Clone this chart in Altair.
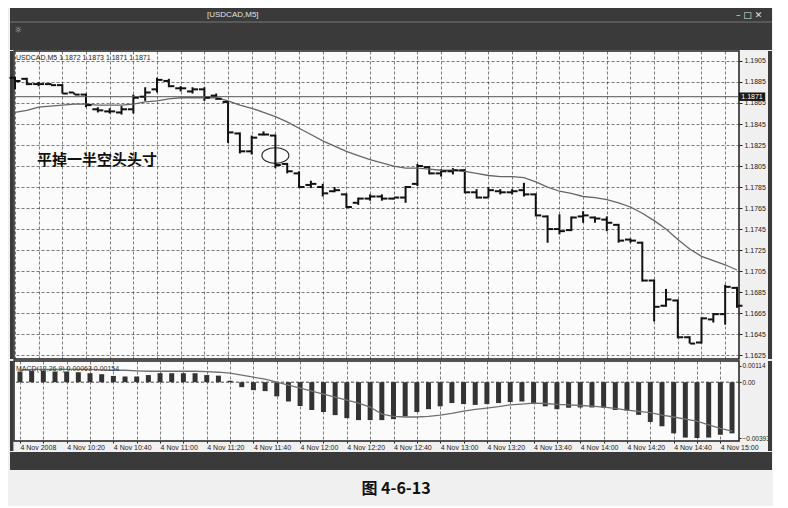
import altair as alt
import pandas as pd

# ---------------- data ----------------
bar_start = "2008-11-04 10:00"
n_bars = 62
bar_times = pd.date_range(bar_start, periods=n_bars, freq="5min")

open_ = [1.1889, 1.1888, 1.1883, 1.1883, 1.1882, 1.1875, 1.1873, 1.1859, 1.1857, 1.1856,
         1.1859, 1.1871, 1.1878, 1.1886, 1.1879, 1.1876, 1.1878, 1.1872, 1.1866, 1.1836,
         1.1819, 1.1835, 1.1834, 1.1807, 1.1798, 1.1787, 1.1785, 1.1781, 1.1778, 1.1770,
         1.1774, 1.1776, 1.1774, 1.1775, 1.1788, 1.1804, 1.1798, 1.1800, 1.1801, 1.1780,
         1.1775, 1.1781, 1.1780, 1.1782, 1.1778, 1.1757, 1.1745, 1.1744, 1.1757, 1.1756,
         1.1754, 1.1749, 1.1735, 1.1732, 1.1696, 1.1672, 1.1677, 1.1642, 1.1637, 1.1659,
         1.1664, 1.1689]
high = [1.1890, 1.1889, 1.1885, 1.1884, 1.1883, 1.1875, 1.1874, 1.1861, 1.1860, 1.1862,
        1.1873, 1.1880, 1.1889, 1.1888, 1.1881, 1.1880, 1.1880, 1.1874, 1.1867, 1.1837,
        1.1834, 1.1838, 1.1835, 1.1808, 1.1800, 1.1791, 1.1788, 1.1785, 1.1779, 1.1775,
        1.1778, 1.1778, 1.1775, 1.1786, 1.1807, 1.1805, 1.1802, 1.1803, 1.1802, 1.1783,
        1.1785, 1.1783, 1.1783, 1.1789, 1.1779, 1.1758, 1.1759, 1.1757, 1.1762, 1.1757,
        1.1757, 1.1750, 1.1736, 1.1733, 1.1697, 1.1688, 1.1678, 1.1643, 1.1661, 1.1665,
        1.1692, 1.1690]
low = [1.1878, 1.1882, 1.1881, 1.1882, 1.1874, 1.1873, 1.1861, 1.1856, 1.1855, 1.1854,
       1.1855, 1.1867, 1.1875, 1.1880, 1.1876, 1.1874, 1.1867, 1.1868, 1.1827, 1.1817,
       1.1816, 1.1834, 1.1803, 1.1798, 1.1784, 1.1784, 1.1776, 1.1780, 1.1765, 1.1768,
       1.1772, 1.1772, 1.1773, 1.1770, 1.1786, 1.1797, 1.1795, 1.1797, 1.1779, 1.1774,
       1.1775, 1.1778, 1.1778, 1.1776, 1.1757, 1.1732, 1.1740, 1.1743, 1.1751, 1.1751,
       1.1743, 1.1732, 1.1732, 1.1695, 1.1657, 1.1671, 1.1641, 1.1636, 1.1636, 1.1656,
       1.1654, 1.1670]
close = [1.1886, 1.1883, 1.1883, 1.1882, 1.1874, 1.1873, 1.1863, 1.1858, 1.1857, 1.1859,
         1.1870, 1.1875, 1.1887, 1.1881, 1.1879, 1.1878, 1.1870, 1.1869, 1.1837, 1.1819,
         1.1832, 1.1835, 1.1806, 1.1800, 1.1785, 1.1788, 1.1779, 1.1782, 1.1766, 1.1774,
         1.1776, 1.1774, 1.1775, 1.1785, 1.1805, 1.1798, 1.1800, 1.1801, 1.1780, 1.1775,
         1.1782, 1.1780, 1.1781, 1.1778, 1.1758, 1.1745, 1.1743, 1.1756, 1.1758, 1.1755,
         1.1751, 1.1734, 1.1734, 1.1696, 1.1671, 1.1678, 1.1642, 1.1636, 1.1660, 1.1664,
         1.1690, 1.1672]
ma = [1.1856, 1.1858, 1.1861, 1.1862, 1.1863, 1.1864, 1.1864, 1.1863, 1.1863, 1.1863,
      1.1864, 1.1866, 1.1867, 1.1869, 1.1870, 1.1870, 1.1870, 1.1870, 1.1867, 1.1863,
      1.1860, 1.1856, 1.1852, 1.1847, 1.1841, 1.1835, 1.1829, 1.1824, 1.1819, 1.1815,
      1.1811, 1.1808, 1.1805, 1.1803, 1.1803, 1.1802, 1.1801, 1.1801, 1.1800, 1.1798,
      1.1796, 1.1795, 1.1795, 1.1794, 1.1790, 1.1785, 1.1781, 1.1779, 1.1776, 1.1775,
      1.1773, 1.1770, 1.1766, 1.1760, 1.1753, 1.1745, 1.1735, 1.1726, 1.1719, 1.1715,
      1.1711, 1.1706]
macd_hist = [0.00075, 0.00080, 0.00080, 0.00075, 0.00075, 0.00070, 0.00063, 0.00056, 0.00044, 0.00040,
             0.00040, 0.00050, 0.00063, 0.00063, 0.00063, 0.00063, 0.00050, 0.00046, 0.00010, -0.00035,
             -0.00056, -0.00063, -0.00100, -0.00136, -0.00168, -0.00196, -0.00210, -0.00232, -0.00253, -0.00267,
             -0.00267, -0.00267, -0.00260, -0.00240, -0.00210, -0.00190, -0.00170, -0.00147, -0.00154, -0.00160,
             -0.00154, -0.00147, -0.00140, -0.00136, -0.00154, -0.00170, -0.00190, -0.00180, -0.00178, -0.00178,
             -0.00180, -0.00196, -0.00200, -0.00230, -0.00280, -0.00310, -0.00360, -0.00390, -0.00393, -0.00390,
             -0.00370, -0.00360]
macd_signal = [0.00084, 0.00090, 0.00090, 0.00090, 0.00090, 0.00090, 0.00090, 0.00087, 0.00084, 0.00084,
               0.00080, 0.00077, 0.00077, 0.00077, 0.00077, 0.00077, 0.00074, 0.00070, 0.00063, 0.00049,
               0.00035, 0.00021, 0.00000, -0.00021, -0.00042, -0.00063, -0.00084, -0.00105, -0.00126, -0.00147,
               -0.00175, -0.00225, -0.00240, -0.00245, -0.00245, -0.00240, -0.00232, -0.00220, -0.00204, -0.00192,
               -0.00182, -0.00172, -0.00160, -0.00154, -0.00147, -0.00150, -0.00156, -0.00160, -0.00164, -0.00168,
               -0.00175, -0.00185, -0.00196, -0.00205, -0.00215, -0.00232, -0.00245, -0.00260, -0.00274, -0.00300,
               -0.00325, -0.00345]

price_levels = [1.1905, 1.1885, 1.1865, 1.1845, 1.1825, 1.1805, 1.1785, 1.1765,
                1.1745, 1.1725, 1.1705, 1.1685, 1.1665, 1.1645, 1.1625]
macd_levels = [0.00114, 0.0, -0.00393]
bid_price = [1.1871]
header_text = "USDCAD,M5  1.1872 1.1873 1.1871 1.1871"
macd_header = "MACD(12,26,9) 0.00063 0.00154"
window_title = "[USDCAD,M5]"
note_text = ["平掉一半空头头寸"]
note_time = ["2008-11-04 10:09:18"]
note_price = [1.1811]
circle_time = ["2008-11-04 11:50"]
circle_price = [1.1815]
caption = "图 4-6-13"

# ---------------- tables ----------------
df = pd.DataFrame({"time": bar_times, "open": open_, "high": high, "low": low,
                   "close": close, "ma": ma, "hist": macd_hist, "signal": macd_signal})
bid_df = pd.DataFrame({"bid": bid_price})
note_df = pd.DataFrame({"time": pd.to_datetime(note_time), "price": note_price, "label": note_text})
circ_df = pd.DataFrame({"time": pd.to_datetime(circle_time), "price": circle_price})
zero_df = pd.DataFrame({"zero": [0.0]})
one = pd.DataFrame({"k": [0]})


def dt(h, m, s=0):
    return alt.DateTime(year=2008, month=11, date=4, hours=h, minutes=m, seconds=s)


grid_times = [dt(10 + (10 * k) // 60, (10 * k) % 60) for k in range(31)]
x_scale = alt.Scale(domain=[dt(9, 59, 35), dt(15, 5, 51)])

W = 725
H_PRICE = 308
H_MACD = 80
FRAME = "#3a3a3a"
INK = "#111111"
FONT = "Liberation Sans"
CJK = "Noto Sans CJK SC"
grid_kw = dict(grid=True, gridColor="#333333", gridDash=[3, 2], gridWidth=0.8, gridOpacity=0.8)

# ---------------- top window bar ----------------
top = alt.layer(
    alt.Chart(one).mark_rect(color=FRAME).encode(
        x=alt.value(-4), x2=alt.value(758), y=alt.value(0), y2=alt.value(42)),
    alt.Chart(one).mark_rule(color="#777777", strokeWidth=1).encode(
        x=alt.value(-4), x2=alt.value(758), y=alt.value(14)),
    alt.Chart(one).mark_text(text=window_title, color="#e0e0e0", fontSize=8, font=FONT,
                             align="left", baseline="middle").encode(
        x=alt.value(193), y=alt.value(7)),
    alt.Chart(one).mark_text(text="–  □  ✕", color="#e0e0e0", fontSize=9, font="DejaVu Sans",
                             align="left", baseline="middle").encode(
        x=alt.value(722), y=alt.value(7)),
    alt.Chart(one).mark_text(text="☼", color="#bbbbbb", fontSize=9, font="DejaVu Sans",
                             align="left", baseline="middle").encode(
        x=alt.value(0), y=alt.value(22)),
).properties(width=W, height=42, view=alt.ViewBackground(stroke=None))

# ---------------- price panel ----------------
y_price = alt.Scale(domain=[1.16213, 1.19145], zero=False, nice=False)
x_price_axis = alt.Axis(values=grid_times, labels=False, ticks=False, domain=False,
                        title=None, **grid_kw)
y_price_axis = alt.Axis(orient="right", values=price_levels, format=".4f", title=None,
                        labelFontSize=7, labelFont=FONT, labelColor="#222", tickSize=3,
                        tickColor="#222", labelPadding=2, domain=False, labelOverlap=False,
                        **grid_kw)
xb = alt.X("time:T", scale=x_scale, axis=x_price_axis, title=None)


def yp(field):
    return alt.Y(field, scale=y_price, axis=y_price_axis, title=None)


wick = alt.Chart(df).mark_rule(color=INK, strokeWidth=2).encode(
    x=xb, y=yp("low:Q"), y2="high:Q")
open_tick = alt.Chart(df).mark_tick(orient="horizontal", size=5, thickness=2, xOffset=-3,
                                    color=INK, opacity=1).encode(x=xb, y=yp("open:Q"))
close_tick = alt.Chart(df).mark_tick(orient="horizontal", size=5, thickness=2, xOffset=3,
                                     color=INK, opacity=1).encode(x=xb, y=yp("close:Q"))
ma_line = alt.Chart(df).mark_line(color="#666666", strokeWidth=1.3).encode(x=xb, y=yp("ma:Q"))
bid_line = alt.Chart(bid_df).mark_rule(color="#555555", strokeWidth=1).encode(y=yp("bid:Q"))
rect_path = "M -1 -0.32 L 1 -0.32 L 1 0.32 L -1 0.32 Z"
bid_box = alt.Chart(bid_df).mark_point(shape=rect_path, filled=True, color="#1a1a1a",
                                       size=700, opacity=1).encode(
    x=alt.value(738), y=yp("bid:Q"))
bid_text = alt.Chart(bid_df).mark_text(color="white", fontSize=7, font=FONT).encode(
    x=alt.value(738), y=yp("bid:Q"), text=alt.Text("bid:Q", format=".4f"))
head = alt.Chart(one).mark_text(text=header_text, fontSize=7, font=FONT, color="#222",
                                align="left", baseline="middle").encode(
    x=alt.value(2), y=alt.value(7))
note = alt.Chart(note_df).mark_text(fontSize=15, font=CJK, fontWeight="bold", color="#111",
                                    align="left", baseline="middle").encode(
    x=alt.X("time:T", scale=x_scale, axis=x_price_axis, title=None),
    y=yp("price:Q"), text="label:N")
ellipse = "M -1 0 A 1 0.58 0 1 0 1 0 A 1 0.58 0 1 0 -1 0 Z"
circ = alt.Chart(circ_df).mark_point(shape=ellipse, filled=False, color="#222",
                                     strokeWidth=1.1, size=729, opacity=1).encode(
    x=alt.X("time:T", scale=x_scale, axis=x_price_axis, title=None), y=yp("price:Q"))
side_l = alt.Chart(one).mark_rect(color=FRAME).encode(
    x=alt.value(-4), x2=alt.value(-0.6), y=alt.value(0), y2=alt.value(H_PRICE))
side_r = alt.Chart(one).mark_rect(color=FRAME).encode(
    x=alt.value(754), x2=alt.value(758), y=alt.value(0), y2=alt.value(H_PRICE))

price = alt.layer(side_l, side_r, wick, bid_line, ma_line, open_tick, close_tick,
                  circ, note, head, bid_box, bid_text).properties(
    width=W, height=H_PRICE, view=alt.ViewBackground(fill="#fbfbfb", stroke="#1e1e1e",
                                                     strokeWidth=1.5))

# ---------------- MACD panel ----------------
y_macd = alt.Scale(domain=[-0.00414, 0.00149], zero=False, nice=False)
label_expr = ("(hours(datum.value) == 10 && minutes(datum.value) == 0) ? '4 Nov 2008' : "
              "(minutes(datum.value) % 20 == 0 ? '4 Nov ' + timeFormat(datum.value, '%H:%M') : '')")
x_macd_axis = alt.Axis(values=grid_times, labelExpr=label_expr, labelAlign="left",
                       labelFontSize=7, labelFont=FONT, labelColor="#222", labelPadding=0,
                       tickSize=2, tickColor="#222", domain=False, title=None,
                       labelOverlap=False, labelFlush=False, **grid_kw)
y_macd_axis = alt.Axis(orient="right", values=macd_levels, title=None, grid=False,
                       labelExpr="datum.value == 0 ? '0.00' : format(datum.value, '.5f')",
                       labelFontSize=6.5, labelFont=FONT, labelColor="#222", tickSize=2,
                       tickColor="#222", labelPadding=1, domain=False, labelOverlap=False)
xm = alt.X("time:T", scale=x_scale, axis=x_macd_axis, title=None)


def ym(field):
    return alt.Y(field, scale=y_macd, axis=y_macd_axis, title=None)


hist = alt.Chart(df).mark_bar(size=5, color="#333333").encode(
    x=xm, y=ym("hist:Q"), y2=alt.datum(0))
sig = alt.Chart(df).mark_line(color="#707070", strokeWidth=1.3).encode(x=xm, y=ym("signal:Q"))
zero = alt.Chart(zero_df).mark_rule(color="#333333", strokeDash=[3, 2], strokeWidth=0.9).encode(
    y=ym("zero:Q"))
mhead = alt.Chart(one).mark_text(text=macd_header, fontSize=7, font=FONT, color="#333",
                                 align="left", baseline="middle").encode(
    x=alt.value(2), y=alt.value(8))
mside_l = alt.Chart(one).mark_rect(color=FRAME).encode(
    x=alt.value(-4), x2=alt.value(-0.6), y=alt.value(0), y2=alt.value(90))
mside_r = alt.Chart(one).mark_rect(color=FRAME).encode(
    x=alt.value(754), x2=alt.value(758), y=alt.value(0), y2=alt.value(90))

macd = alt.layer(mside_l, mside_r, hist, zero, sig, mhead).properties(
    width=W, height=H_MACD, view=alt.ViewBackground(fill="#fbfbfb", stroke="#1e1e1e",
                                                   strokeWidth=1.5))

# ---------------- bottom bar and caption ----------------
bottom = alt.Chart(one).mark_rect(color=FRAME).encode(
    x=alt.value(-4), x2=alt.value(758), y=alt.value(0), y2=alt.value(18)
).properties(width=W, height=18, view=alt.ViewBackground(stroke=None))

cap = alt.Chart(one).mark_text(text=caption, fontSize=16, font=CJK, fontWeight="bold",
                               color="#111", align="center", baseline="middle").encode(
    x=alt.value(382), y=alt.value(19)
).properties(width=W, height=36, view=alt.ViewBackground(stroke=None))

chart = alt.vconcat(top, price, macd, bottom, cap, spacing=0).properties(
    background="#f0f0f0", padding=0)

chart.save("out.html", embed_options={"renderer": "svg", "actions": False})
